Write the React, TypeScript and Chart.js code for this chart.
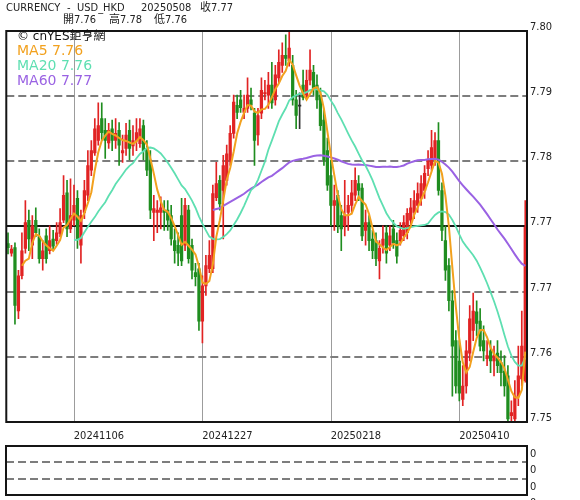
import { useEffect, useRef } from "react";
import { Chart, registerables } from "chart.js";

Chart.register(...registerables);

// Trading days, one per candle
const dates = [
  "20241010", "20241011", "20241014", "20241015", "20241016", "20241017", "20241018",
  "20241021", "20241022", "20241023", "20241024", "20241025",
  "20241028", "20241029", "20241030", "20241031", "20241101",
  "20241104", "20241105", "20241106", "20241107", "20241108",
  "20241111", "20241112", "20241113", "20241114", "20241115",
  "20241118", "20241119", "20241120", "20241121", "20241122",
  "20241125", "20241126", "20241127", "20241128", "20241129",
  "20241202", "20241203", "20241204", "20241205", "20241206",
  "20241209", "20241210", "20241211", "20241212", "20241213",
  "20241216", "20241217", "20241218", "20241219", "20241220",
  "20241223", "20241224", "20241225", "20241226", "20241227",
  "20241230", "20241231", "20250101", "20250102", "20250103",
  "20250106", "20250107", "20250108", "20250109", "20250110",
  "20250113", "20250114", "20250115", "20250116", "20250117",
  "20250120", "20250121", "20250122", "20250123", "20250124",
  "20250127", "20250128", "20250129", "20250130", "20250131",
  "20250203", "20250204", "20250205", "20250206", "20250207",
  "20250210", "20250211", "20250212", "20250213", "20250214",
  "20250217", "20250218", "20250219", "20250220", "20250221",
  "20250224", "20250225", "20250226", "20250227", "20250228",
  "20250303", "20250304", "20250305", "20250306", "20250307",
  "20250310", "20250311", "20250312", "20250313", "20250314",
  "20250317", "20250318", "20250319", "20250320", "20250321",
  "20250324", "20250325", "20250326", "20250327", "20250328",
  "20250331", "20250401", "20250402", "20250403", "20250404",
  "20250407", "20250408", "20250409", "20250410", "20250411",
  "20250414", "20250415", "20250416", "20250417", "20250421",
  "20250422", "20250423", "20250424", "20250425", "20250428",
  "20250429", "20250430", "20250501", "20250502", "20250505",
  "20250506", "20250507", "20250508",
];

const opens = [
  7.7728, 7.7716, 7.7723, 7.7642, 7.7687, 7.7722, 7.7758, 7.7726, 7.7758, 7.7737,
  7.7709, 7.7738, 7.7719, 7.7734, 7.7732, 7.7741, 7.7758, 7.7793, 7.7747, 7.7758,
  7.7786, 7.7726, 7.7768, 7.7790, 7.7822, 7.7844, 7.7860, 7.7888, 7.7873, 7.7857,
  7.7875, 7.7860, 7.7873, 7.7844, 7.7850, 7.7873, 7.7853, 7.7860, 7.7856, 7.7879,
  7.7850, 7.7835, 7.7768, 7.7768, 7.7768, 7.7771, 7.7771, 7.7764, 7.7732, 7.7726,
  7.7764, 7.7726, 7.7771, 7.7726, 7.7691, 7.7696, 7.7629, 7.7674, 7.7696, 7.7696,
  7.7787, 7.7809, 7.7796, 7.7809, 7.7835, 7.7869, 7.7905, 7.7912, 7.7896, 7.7901,
  7.7912, 7.7895, 7.7867, 7.7895, 7.7920, 7.7918, 7.7931, 7.7912, 7.7940, 7.7956,
  7.7969, 7.7962, 7.7956, 7.7912, 7.7904, 7.7931, 7.7918, 7.7937, 7.7947, 7.7931,
  7.7918, 7.7886, 7.7847, 7.7815, 7.7777, 7.7790, 7.7764, 7.7751, 7.7768, 7.7777,
  7.7790, 7.7805, 7.7799, 7.7745, 7.7755, 7.7734, 7.7732, 7.7706, 7.7726, 7.7742,
  7.7726, 7.7747, 7.7732, 7.7732, 7.7738, 7.7742, 7.7758, 7.7768, 7.7777, 7.7786,
  7.7796, 7.7824, 7.7828, 7.7835, 7.7860, 7.7796, 7.7732, 7.7700, 7.7655, 7.7604,
  7.7578, 7.7529, 7.7546, 7.7588, 7.7617, 7.7641, 7.7629, 7.7604, 7.7581, 7.7591,
  7.7578, 7.7588, 7.7576, 7.7565, 7.7559, 7.7508, 7.7504, 7.7533, 7.7555, 7.7553,
];

const highs = [
  7.7742, 7.7726, 7.7729, 7.7694, 7.7742, 7.7783, 7.7771, 7.7764, 7.7774, 7.7747,
  7.7732, 7.7747, 7.7751, 7.7745, 7.7755, 7.7773, 7.7815, 7.7809, 7.7811, 7.7803,
  7.7796, 7.7771, 7.7809, 7.7847, 7.7860, 7.7888, 7.7908, 7.7908, 7.7888, 7.7882,
  7.7886, 7.7888, 7.7883, 7.7867, 7.7882, 7.7886, 7.7879, 7.7888, 7.7888, 7.7886,
  7.7860, 7.7847, 7.7790, 7.7783, 7.7788, 7.7783, 7.7783, 7.7777, 7.7747, 7.7742,
  7.7786, 7.7786, 7.7777, 7.7734, 7.7703, 7.7703, 7.7687, 7.7713, 7.7732, 7.7803,
  7.7832, 7.7815, 7.7841, 7.7854, 7.7879, 7.7918, 7.7918, 7.7924, 7.7918, 7.7940,
  7.7927, 7.7901, 7.7901, 7.7940, 7.7937, 7.7947, 7.7960, 7.7956, 7.7976, 7.7985,
  7.7995, 7.7999, 7.7969, 7.7924, 7.7921, 7.7950, 7.7950, 7.7976, 7.7956, 7.7944,
  7.7927, 7.7899, 7.7863, 7.7835, 7.7803, 7.7796, 7.7777, 7.7809, 7.7790, 7.7809,
  7.7825, 7.7815, 7.7805, 7.7771, 7.7764, 7.7745, 7.7742, 7.7732, 7.7751, 7.7751,
  7.7751, 7.7758, 7.7742, 7.7755, 7.7764, 7.7773, 7.7786, 7.7796, 7.7806, 7.7815,
  7.7828, 7.7847, 7.7873, 7.7870, 7.7883, 7.7806, 7.7751, 7.7709, 7.7668, 7.7617,
  7.7604, 7.7572, 7.7604, 7.7649, 7.7665, 7.7655, 7.7645, 7.7623, 7.7604, 7.7604,
  7.7597, 7.7604, 7.7591, 7.7585, 7.7572, 7.7527, 7.7553, 7.7597, 7.7642, 7.7783,
];

const lows = [
  7.7715, 7.7712, 7.7625, 7.7632, 7.7683, 7.7716, 7.7719, 7.7709, 7.7737, 7.7703,
  7.7694, 7.7703, 7.7715, 7.7719, 7.7727, 7.7737, 7.7755, 7.7737, 7.7742, 7.7751,
  7.7722, 7.7703, 7.7760, 7.7783, 7.7815, 7.7841, 7.7854, 7.7860, 7.7837, 7.7850,
  7.7847, 7.7850, 7.7828, 7.7832, 7.7841, 7.7835, 7.7841, 7.7847, 7.7851, 7.7835,
  7.7815, 7.7760, 7.7732, 7.7742, 7.7747, 7.7745, 7.7745, 7.7726, 7.7703, 7.7700,
  7.7700, 7.7719, 7.7703, 7.7683, 7.7674, 7.7617, 7.7601, 7.7662, 7.7691, 7.7691,
  7.7783, 7.7771, 7.7734, 7.7803, 7.7828, 7.7863, 7.7888, 7.7896, 7.7888, 7.7896,
  7.7899, 7.7828, 7.7854, 7.7888, 7.7912, 7.7901, 7.7901, 7.7905, 7.7934, 7.7947,
  7.7956, 7.7955, 7.7905, 7.7875, 7.7875, 7.7912, 7.7914, 7.7931, 7.7918, 7.7901,
  7.7873, 7.7828, 7.7796, 7.7751, 7.7745, 7.7742, 7.7719, 7.7738, 7.7745, 7.7768,
  7.7783, 7.7783, 7.7732, 7.7726, 7.7719, 7.7709, 7.7700, 7.7683, 7.7716, 7.7703,
  7.7719, 7.7722, 7.7703, 7.7726, 7.7732, 7.7734, 7.7751, 7.7760, 7.7768, 7.7777,
  7.7786, 7.7815, 7.7822, 7.7828, 7.7790, 7.7732, 7.7681, 7.7642, 7.7533, 7.7537,
  7.7527, 7.7521, 7.7537, 7.7578, 7.7604, 7.7610, 7.7591, 7.7578, 7.7572, 7.7563,
  7.7559, 7.7563, 7.7546, 7.7533, 7.7501, 7.7501, 7.7501, 7.7521, 7.7546, 7.7551,
];

const closes = [
  7.7723, 7.7721, 7.7649, 7.7687, 7.7719, 7.7755, 7.7734, 7.7751, 7.7742, 7.7709,
  7.7719, 7.7709, 7.7732, 7.7725, 7.7742, 7.7755, 7.7790, 7.7747, 7.7764, 7.7777,
  7.7734, 7.7764, 7.7796, 7.7828, 7.7847, 7.7875, 7.7879, 7.7870, 7.7860, 7.7873,
  7.7860, 7.7869, 7.7854, 7.7847, 7.7867, 7.7850, 7.7860, 7.7870, 7.7875, 7.7847,
  7.7822, 7.7771, 7.7773, 7.7771, 7.7774, 7.7768, 7.7758, 7.7734, 7.7719, 7.7716,
  7.7706, 7.7777, 7.7709, 7.7694, 7.7686, 7.7629, 7.7674, 7.7700, 7.7713, 7.7792,
  7.7805, 7.7779, 7.7828, 7.7843, 7.7869, 7.7909, 7.7896, 7.7902, 7.7901, 7.7918,
  7.7905, 7.7860, 7.7892, 7.7924, 7.7921, 7.7931, 7.7908, 7.7944, 7.7960, 7.7969,
  7.7965, 7.7978, 7.7912, 7.7892, 7.7904, 7.7915, 7.7937, 7.7950, 7.7927, 7.7912,
  7.7879, 7.7835, 7.7803, 7.7777, 7.7783, 7.7751, 7.7747, 7.7764, 7.7777, 7.7793,
  7.7809, 7.7796, 7.7738, 7.7755, 7.7732, 7.7719, 7.7709, 7.7722, 7.7734, 7.7716,
  7.7738, 7.7729, 7.7712, 7.7745, 7.7755, 7.7767, 7.7774, 7.7783, 7.7792, 7.7805,
  7.7818, 7.7835, 7.7851, 7.7860, 7.7796, 7.7745, 7.7694, 7.7655, 7.7597, 7.7546,
  7.7537, 7.7546, 7.7591, 7.7632, 7.7642, 7.7626, 7.7597, 7.7591, 7.7585, 7.7578,
  7.7585, 7.7572, 7.7563, 7.7546, 7.7504, 7.7512, 7.7533, 7.7559, 7.7597, 7.7749,
];

// Dates that get a vertical guide and an axis label
const markedDates = ["20241106", "20241227", "20250218", "20250410"];

// Price axis: six equal steps between 7.75 and 7.80
const priceTicks = [7.75, 7.758333, 7.766667, 7.775, 7.783333, 7.791667, 7.8];
const priceTickLabels = ["7.75", "7.76", "7.77", "7.77", "7.78", "7.79", "7.80"];

// Indicator sub-panel axis
const panelTicks = [0, 1, 2, 3];
const panelTickLabels = ["0", "0", "0", "0"];

const market = "CURRENCY";
const pair = "USD_HKD";
const brand = "\u00A9 cnYES\u9245\u4EA8\u7DB2";
const maPeriods = [5, 20, 60];

const UP = "#e12323";
const DOWN = "#1f8d1f";
const FLAT = "#333333";
const MA_COLORS = ["#f2a11e", "#5edfb1", "#9a62e3"];
const GRID_DASH = "#7d7d7d";
const TEXT = "#222222";
const AXIS_FONT = '"DejaVu Sans Condensed", "Liberation Sans", Arial, "Noto Sans CJK TC", sans-serif';

function movingAverage(values: number[], n: number): (number | null)[] {
  return values.map((_, i) => {
    if (i < n - 1) return null;
    let s = 0;
    for (let k = i - n + 1; k <= i; k++) s += values[k];
    return s / n;
  });
}

// keep the plot box exactly where the layout padding puts it
const noEdgePadding = (s: any) => {
  s.paddingTop = 0;
  s.paddingBottom = 0;
};

export default function App() {
  const mainRef = useRef<HTMLCanvasElement | null>(null);
  const panelRef = useRef<HTMLCanvasElement | null>(null);

  useEffect(() => {
    if (!mainRef.current || !panelRef.current) return;

    const maSeries = maPeriods.map((n) => movingAverage(closes, n));
    const candleColors = closes.map((c, i) => (c > opens[i] ? UP : c < opens[i] ? DOWN : FLAT));
    const last = closes.length - 1;

    const mainDecor = {
      id: "mainDecor",
      beforeDatasetsDraw(chart: any) {
        const { ctx, chartArea: a, scales } = chart;
        const x = scales.x;
        const y = scales.y;
        ctx.save();
        // vertical date guides
        ctx.strokeStyle = "#9c9c9c";
        ctx.lineWidth = 1;
        dates.forEach((d, i) => {
          if (!markedDates.includes(d)) return;
          const px = Math.round(x.getPixelForValue(i)) + 0.5;
          ctx.beginPath();
          ctx.moveTo(px, a.top);
          ctx.lineTo(px, a.bottom);
          ctx.stroke();
        });
        // price levels: middle one solid, others dashed
        priceTicks.forEach((v, i) => {
          if (i === 0 || i === priceTicks.length - 1) return;
          const py = Math.round(y.getPixelForValue(v));
          ctx.beginPath();
          if (i === 3) {
            ctx.setLineDash([]);
            ctx.strokeStyle = "#151515";
          } else {
            ctx.setLineDash([8, 4]);
            ctx.strokeStyle = GRID_DASH;
          }
          ctx.lineWidth = 2;
          ctx.moveTo(a.left, py);
          ctx.lineTo(a.right, py);
          ctx.stroke();
        });
        ctx.restore();
      },
      afterDatasetsDraw(chart: any) {
        const { ctx, chartArea: a } = chart;
        ctx.save();
        // frame
        ctx.strokeStyle = "#151515";
        ctx.lineWidth = 2;
        ctx.setLineDash([]);
        ctx.strokeRect(a.left, a.top, a.right - a.left, a.bottom - a.top);
        // legend
        ctx.textAlign = "left";
        ctx.textBaseline = "middle";
        ctx.fillStyle = "#111";
        ctx.font = '12px "DejaVu Sans", "Noto Sans CJK TC", sans-serif';
        ctx.fillText(brand, 17, 37);
        ctx.font = '14px "DejaVu Sans", Verdana, sans-serif';
        maPeriods.forEach((n, k) => {
          const series = maSeries[k];
          const v = series[series.length - 1] as number;
          ctx.fillStyle = MA_COLORS[k];
          ctx.fillText(`MA${n} ${v.toFixed(2)}`, 17, 51 + k * 15.2);
        });
        ctx.restore();
      },
      afterDraw(chart: any) {
        const { ctx } = chart;
        ctx.save();
        ctx.textAlign = "left";
        ctx.textBaseline = "middle";
        ctx.fillStyle = TEXT;
        ctx.font = `11px ${AXIS_FONT}`;
        ctx.fillText(market, 6, 8);
        ctx.fillText("-", 67, 8);
        ctx.fillText(pair, 77, 8);
        ctx.fillText(dates[last], 141, 8);
        ctx.fillText("\u6536" + closes[last].toFixed(2), 200, 8);
        ctx.fillText("\u958B" + opens[last].toFixed(2), 63, 20);
        ctx.fillText("\u9AD8" + highs[last].toFixed(2), 109, 20);
        ctx.fillText("\u4F4E" + lows[last].toFixed(2), 154, 20);
        ctx.restore();
      },
    };

    const main = new Chart(mainRef.current, {
      type: "bar",
      data: {
        labels: dates,
        datasets: [
          {
            type: "line",
            label: "MA5",
            data: maSeries[0],
            borderColor: MA_COLORS[0],
            borderWidth: 2,
            pointRadius: 0,
            tension: 0,
            order: 0,
          },
          {
            type: "line",
            label: "MA20",
            data: maSeries[1],
            borderColor: MA_COLORS[1],
            borderWidth: 1.8,
            pointRadius: 0,
            tension: 0,
            order: 1,
          },
          {
            type: "line",
            label: "MA60",
            data: maSeries[2],
            borderColor: MA_COLORS[2],
            borderWidth: 2,
            pointRadius: 0,
            tension: 0,
            order: 2,
          },
          {
            type: "bar",
            label: "body",
            data: opens.map((o, i) => [o, closes[i]]),
            backgroundColor: candleColors,
            barThickness: 2.6,
            minBarLength: 1,
            grouped: false,
            order: 3,
          },
          {
            type: "bar",
            label: "wick",
            data: lows.map((l, i) => [l, highs[i]]),
            backgroundColor: candleColors,
            barThickness: 1,
            grouped: false,
            order: 4,
          },
        ] as any,
      },
      options: {
        animation: false,
        responsive: false,
        devicePixelRatio: 1,
        layout: { padding: { left: 6, top: 31, right: 0, bottom: 0 } },
        plugins: { legend: { display: false }, tooltip: { enabled: false } },
        scales: {
          x: {
            type: "category",
            offset: true,
            grid: { display: false, drawTicks: false },
            border: { display: false },
            ticks: {
              autoSkip: false,
              maxRotation: 0,
              minRotation: 0,
              padding: 8,
              labelOffset: 25,
              color: TEXT,
              font: { family: AXIS_FONT, size: 11 },
              callback: (_v: any, i: number) => (markedDates.includes(dates[i]) ? dates[i] : ""),
            },
            afterFit: (s: any) => {
              s.height = 20;
            },
          },
          y: {
            position: "right",
            min: 7.75,
            max: 7.8,
            grid: { display: false, drawTicks: false },
            border: { display: false },
            afterBuildTicks: (s: any) => {
              s.ticks = priceTicks.map((v) => ({ value: v }));
            },
            ticks: {
              autoSkip: false,
              padding: 3,
              labelOffset: -4,
              color: TEXT,
              font: { family: AXIS_FONT, size: 11 },
              callback: (_v: any, i: number) => priceTickLabels[i],
            },
            afterFit: (s: any) => {
              s.width = 53;
              noEdgePadding(s);
            },
          },
        },
      } as any,
      plugins: [mainDecor],
    });

    const panelDecor = {
      id: "panelDecor",
      afterDraw(chart: any) {
        const { ctx, chartArea: a, scales } = chart;
        const y = scales.y;
        ctx.save();
        ctx.strokeStyle = GRID_DASH;
        ctx.lineWidth = 2;
        ctx.setLineDash([8, 4]);
        [panelTicks[1], panelTicks[2]].forEach((v) => {
          const py = Math.round(y.getPixelForValue(v));
          ctx.beginPath();
          ctx.moveTo(a.left, py);
          ctx.lineTo(a.right, py);
          ctx.stroke();
        });
        ctx.setLineDash([]);
        ctx.strokeStyle = "#151515";
        ctx.strokeRect(a.left, a.top, a.right - a.left, a.bottom - a.top);
        ctx.restore();
      },
    };

    const panel = new Chart(panelRef.current, {
      type: "line",
      data: { labels: dates, datasets: [] },
      options: {
        animation: false,
        responsive: false,
        devicePixelRatio: 1,
        layout: { padding: { left: 6, top: 6, right: 0, bottom: 5 } },
        plugins: { legend: { display: false }, tooltip: { enabled: false } },
        scales: {
          x: { display: false },
          y: {
            position: "right",
            min: 0,
            max: 3,
            grid: { display: false, drawTicks: false },
            border: { display: false },
            afterBuildTicks: (s: any) => {
              s.ticks = panelTicks.map((v) => ({ value: v }));
            },
            ticks: {
              autoSkip: false,
              padding: 3,
              labelOffset: 8,
              color: TEXT,
              font: { family: AXIS_FONT, size: 11 },
              callback: (_v: any, i: number) => panelTickLabels[i],
            },
            afterFit: (s: any) => {
              s.width = 53;
              noEdgePadding(s);
            },
          },
        },
      } as any,
      plugins: [panelDecor],
    });

    return () => {
      main.destroy();
      panel.destroy();
    };
  }, []);

  return (
    <div
      style={{
        position: "absolute",
        left: 0,
        top: 0,
        width: 580,
        height: 500,
        background: "#ffffff",
        overflow: "hidden",
      }}
    >
      <canvas
        ref={mainRef}
        width={580}
        height={442}
        style={{ position: "absolute", left: 0, top: 0, width: 580, height: 442 }}
      />
      <canvas
        ref={panelRef}
        width={580}
        height={60}
        style={{ position: "absolute", left: 0, top: 440, width: 580, height: 60 }}
      />
    </div>
  );
}
